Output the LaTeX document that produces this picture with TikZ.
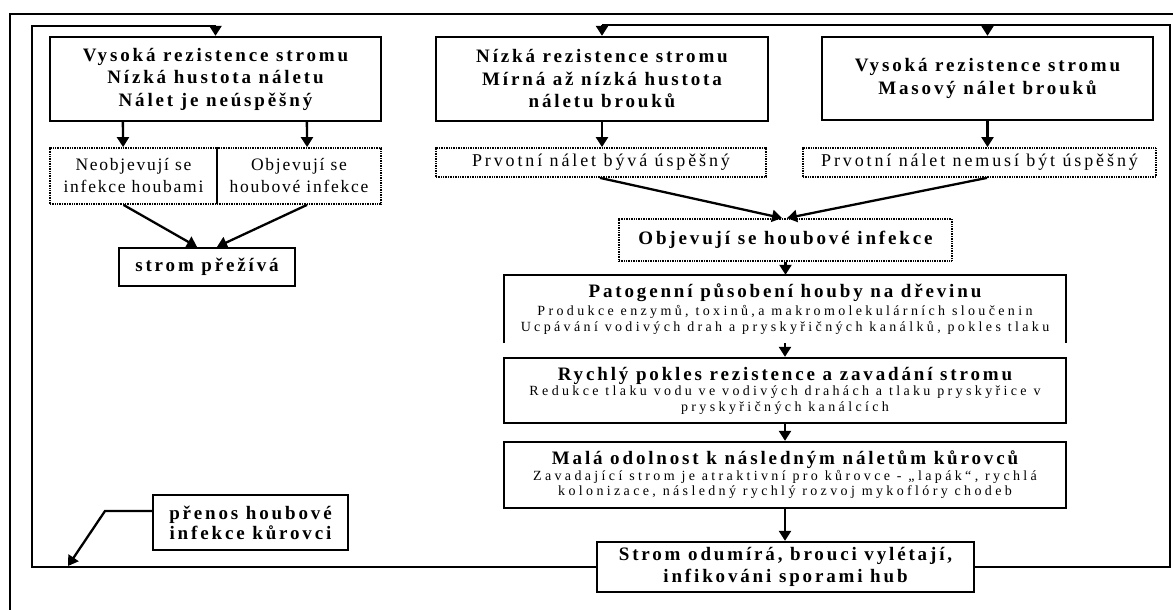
\documentclass[tikz,border=0pt]{standalone}
\usepackage{fontspec}
\setmainfont{Liberation Serif}
\newfontfamily\spA[LetterSpace=15]{Liberation Serif}
\newfontfamily\spR[LetterSpace=16]{Liberation Serif}
\newfontfamily\spD[LetterSpace=10]{Liberation Serif}
\newfontfamily\spB[LetterSpace=24]{Liberation Serif}
\usetikzlibrary{arrows.meta,calc}
\begin{document}
\begin{tikzpicture}[x=1pt,y=-1pt,
  box/.style={draw,line width=2.3pt,inner sep=0pt,align=center},
  dbox/.style={draw,line width=1.8pt,dash pattern=on 1pt off 0.7pt,inner sep=0pt,align=center},
  arr/.style={line width=2.3pt,-{Triangle[length=10pt,width=12pt]}},
  loopline/.style={line width=2.8pt},
  hd/.style={font=\spA\bfseries\fontsize{19}{22.5}\selectfont},
  rg/.style={font=\spR\fontsize{18}{22}\selectfont},
  rd/.style={font=\spD\fontsize{17.5}{22}\selectfont},
  sm/.style={font=\spB\fontsize{14}{15.5}\selectfont}]
\useasboundingbox (0,0) rectangle (1173,610);
% outer thin frame
\draw[line width=1.3pt] (10,610) -- (10,14) -- (1173,14);

% left branch
\node[box,hd,minimum width=331pt,minimum height=84pt] (b1) at (215.5,79)
  {Vysoká rezistence stromu\\Nízká hustota náletu\\Nálet je neúspěšný};
\node[dbox,rd,minimum width=167pt,minimum height=56pt] (d1) at (133.5,176)
  {Neobjevují se\\infekce houbami};
\node[dbox,rd,minimum width=164pt,minimum height=56pt] (d2) at (299,176)
  {Objevují se\\houbové infekce};
\node[box,hd,minimum width=176pt,minimum height=38pt] (s1) at (207,267) {strom přežívá};

% middle and right
\node[box,hd,minimum width=332pt,minimum height=84pt] (b2) at (602,79)
  {Nízká rezistence stromu\\Mírná až nízká hustota\\náletu brouků};
\node[box,hd,minimum width=331pt,minimum height=83pt] (b3) at (987.5,78.5)
  {Vysoká rezistence stromu\\Masový nálet brouků};
\node[dbox,rg,minimum width=330pt,minimum height=29pt] (p1) at (601,162.5)
  {Prvotní nálet bývá úspěšný};
\node[dbox,rg,minimum width=353pt,minimum height=29pt] (p2) at (979.5,162.5)
  {Prvotní nálet nemusí být úspěšný};
\node[dbox,hd,minimum width=333pt,minimum height=42pt] (o1) at (785.5,240)
  {Objevují se houbové infekce};

\node[inner sep=0pt,align=center,sm,minimum width=562pt,minimum height=68pt] (pat) at (785,309)
  {{\spA\bfseries\fontsize{19}{22}\selectfont Patogenní působení houby na dřevinu}\\[3pt]
   Produkce enzymů, toxinů,a makromolekulárních sloučenin\\
   Ucpávání vodivých drah a pryskyřičných kanálků, pokles tlaku};
\draw[line width=2.3pt] (pat.south west) -- (pat.north west) -- (pat.north east) -- (pat.south east);

\node[box,sm,minimum width=562pt,minimum height=65pt] (ry) at (785,390.5)
  {{\spA\bfseries\fontsize{19}{22}\selectfont Rychlý pokles rezistence a zavadání stromu}\\
   Redukce tlaku vodu ve vodivých drahách a tlaku pryskyřice v\\
   pryskyřičných kanálcích};
\node[box,sm,minimum width=562pt,minimum height=66pt] (ma) at (785,475)
  {{\spA\bfseries\fontsize{19}{22}\selectfont Malá odolnost k následným náletům kůrovců}\\
   Zavadající strom je atraktivní pro kůrovce - „lapák“, rychlá\\
   kolonizace, následný rychlý rozvoj mykoflóry chodeb};
\node[box,hd,minimum width=377pt,minimum height=50pt] (st) at (785.5,567)
  {Strom odumírá, brouci vylétají,\\infikováni sporami hub};
\node[box,font=\spA\bfseries\fontsize{19}{20}\selectfont,minimum width=195pt,minimum height=55pt] (pr) at (250.5,522.5)
  {přenos houbové\\infekce kůrovci};

% arrows
\draw[arr] ($(b1.south west)+(74,0)$) -- ($(d1.north west)+(74,0)$);
\draw[arr] ($(b1.south west)+(258,0)$) -- ($(d2.north west)+(91,0)$);
\draw[arr] ($(d1.south)+(-10,0)$) -- ($(s1.north)+(-10,0)$);
\draw[arr] ($(d2.south)+(8,0)$) -- ($(s1.north)+(10,0)$);
\draw[arr] (b2.south) -- (p1.north -| b2.south);
\draw[arr] (b3.south) -- (p2.north -| b3.south);
\draw[arr] ($(p1.south)+(-1,0)$) -- ($(o1.north)+(-3.5,0)$);
\draw[arr] ($(p2.south)+(7.5,0)$) -- ($(o1.north)+(1.5,0)$);
\draw[arr] (o1.south) -- (pat.north -| o1.south);
\draw[arr] (pat.south) -- (ry.north);
\draw[arr] (ry.south) -- (ma.north);
\draw[arr] (ma.south) -- (st.north -| ma.south);

% feedback loops
\coordinate (LB) at (32,567);
\coordinate (LT) at (32,26);
\coordinate (RB) at (1170,567);
\coordinate (RT) at (1170,25);
\draw[loopline] (st.west) -- (LB) -- (LT) -- (LT -| b1.north);
\draw[arr] (LT -| b1.north) -- (b1.north);
\draw[loopline] (st.east) -- (RB) -- (RT) -- (RT -| b2.north);
\draw[arr] (RT -| b2.north) -- (b2.north);
\draw[arr] (RT -| b3.north) -- (b3.north);

% transfer label arrow
\coordinate (pk) at (105,511);
\coordinate (pe) at (68,566);
\draw[arr] ($(pr.north west)!0.3!(pr.south west)$) -- (pk) -- (pe);
\end{tikzpicture}
\end{document}
